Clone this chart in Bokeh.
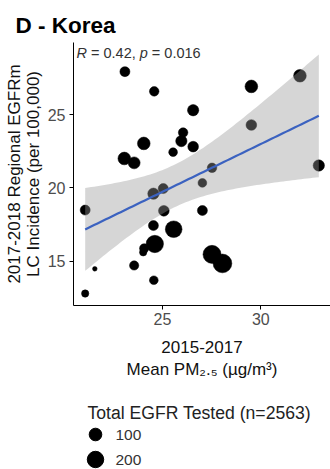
import numpy as np
from bokeh.plotting import figure
from bokeh.models import Range1d, FixedTicker, Label, ColumnDataSource
from bokeh.layouts import column
from bokeh.embed import file_html
from bokeh.resources import INLINE
from bokeh.core.properties import value

# ---- data ----
pm25 = [23.09, 24.58, 29.52, 31.99, 26.56, 29.52, 26.05, 25.96, 26.56, 24.05,
        25.54, 23.06, 23.56, 27.52, 32.95, 27.03, 25.04, 24.54, 21.07, 25.07,
        27.03, 24.54, 25.57, 24.61, 24.07, 24.02, 27.52, 28.05, 23.56, 21.56,
        24.56, 21.07]
incidence = [27.96, 26.61, 26.95, 27.68, 25.32, 24.31, 23.79, 23.21, 22.83, 23.05,
             22.45, 22.02, 21.72, 21.38, 21.54, 20.35, 19.96, 19.61, 18.49, 18.44,
             18.46, 17.43, 17.18, 16.17, 15.87, 15.60, 15.46, 14.84, 14.70, 14.47,
             13.69, 12.78]
n_tested = [52, 45, 102, 102, 74, 63, 45, 74, 63, 102,
            34, 102, 87, 45, 74, 34, 52, 74, 52, 63,
            52, 52, 208, 228, 41, 19, 251, 276, 41, 2,
            34, 19]
x_ticks = [25, 30]
y_ticks = [15, 20, 25]
legend_values = [100, 200]
legend_labels = ["100", "200"]
title_text = "D - Korea"
NB = "\u00a0"
stat_parts = ["R", NB + "=" + NB + "0.42," + NB, "p", NB + "=" + NB + "0.016"]
x_label = "2015-2017\nMean PM\u2082.\u2085 (\u00b5g/m\u00b3)"
y_label = "2017-2018 Regional EGFRm\nLC Incidence (per 100,000)"
legend_title = "Total EGFR Tested (n=2563)"

FONT = "Liberation Sans"
FRAME_LEFT = 73


def dot_size(n):
    return 3.3 + 0.93 * np.sqrt(np.asarray(n, dtype=float))


# ---- linear fit with 95% CI (as geom_smooth(method="lm")) ----
x = np.array(pm25)
y = np.array(incidence)
nobs = len(x)
b, a = np.polyfit(x, y, 1)
xs = np.linspace(x.min(), x.max(), 80)
yhat = a + b * xs
resid = y - (a + b * x)
s = np.sqrt(np.sum(resid ** 2) / (nobs - 2))
sxx = np.sum((x - x.mean()) ** 2)
se = s * np.sqrt(1.0 / nobs + (xs - x.mean()) ** 2 / sxx)
tq = 2.042
lo = yhat - tq * se
hi = yhat + tq * se

xmin, xmax = x.min(), x.max()
xpad = 0.05 * (xmax - xmin)
ymin = min(y.min(), lo.min())
ymax = max(y.max(), hi.max())
ypad = 0.05 * (ymax - ymin)

p = figure(width=330, height=390, output_backend="svg", toolbar_location=None,
           x_range=Range1d(xmin - xpad, xmax + xpad),
           y_range=Range1d(ymin - ypad, ymax + ypad),
           min_border_left=FRAME_LEFT, min_border_right=0, min_border_top=42,
           min_border_bottom=85)
p.outline_line_color = None
p.xgrid.visible = False
p.ygrid.visible = False
p.background_fill_color = "white"

src = ColumnDataSource(dict(x=pm25, y=incidence, size=dot_size(n_tested)))
p.scatter("x", "y", size="size", source=src, fill_color="black",
          line_color="black", line_width=0.5)

p.varea(x=xs, y1=lo, y2=hi, fill_color="#999999", fill_alpha=0.4)
p.line(xs, yhat, line_color="#3b62c0", line_width=2.2)

# title
p.title.text = title_text
p.title.text_font = FONT
p.title.text_font_size = "22.5px"
p.title.text_font_style = "bold"
p.title.align = "left"
p.title.offset = -58
p.title.text_color = "black"

# axes
for ax in (p.xaxis[0], p.yaxis[0]):
    ax.axis_line_color = "black"
    ax.axis_line_width = 1
    ax.major_tick_line_color = "black"
    ax.major_tick_out = 4
    ax.major_tick_in = 0
    ax.minor_tick_line_color = None
    ax.major_label_text_font = FONT
    ax.major_label_text_font_size = "16px"
    ax.major_label_text_color = "#4d4d4d"
    ax.axis_label_text_font = FONT
    ax.axis_label_text_font_size = "17px"
    ax.axis_label_text_font_style = "normal"
    ax.axis_label_text_color = "#111111"

p.xaxis.axis_label_text_line_height = 1.2
p.yaxis.axis_label_text_line_height = 1.0
p.xaxis.ticker = FixedTicker(ticks=x_ticks)
p.yaxis.ticker = FixedTicker(ticks=y_ticks)
p.xaxis.axis_label = x_label
p.yaxis.axis_label = y_label
p.xaxis.major_label_standoff = 3
p.yaxis.major_label_standoff = 4
p.xaxis.axis_label_standoff = 10
p.yaxis.axis_label_standoff = 2

# R / p annotation (R and p italic)
fs = 14.5
widths = [0.722, 3.642, 0.556, 3.64]
off = 3.0
for part, w in zip(stat_parts, widths):
    italic = part in ("R", "p")
    p.add_layout(Label(x=xmin - xpad, y=ymax + ypad, x_offset=off, y_offset=-10,
                       text=part, text_font=FONT, text_font_size=f"{fs}px",
                       text_font_style="italic" if italic else "normal",
                       text_color="#333333", text_baseline="middle",
                       text_align="left"))
    off += w * fs

# ---- legend as its own small figure (x in page px) ----
LH = 79
leg = figure(width=330, height=LH, output_backend="svg", toolbar_location=None,
             x_range=Range1d(FRAME_LEFT, 330), y_range=Range1d(LH, 0),
             x_axis_type=None, y_axis_type=None,
             min_border=0, min_border_left=FRAME_LEFT, min_border_right=0,
             min_border_top=0, min_border_bottom=0)
leg.outline_line_color = None
leg.xgrid.visible = False
leg.ygrid.visible = False

leg_x0 = 87
title_y = 22
item_y0 = 44
item_step = 25
item_ys = [item_y0 + i * item_step for i in range(len(legend_values))]

leg.text(x=[leg_x0], y=[title_y], text=[legend_title], text_font=value(FONT),
         text_font_size="17.6px", text_color="#222222", text_baseline="middle",
         text_align="left")
leg.scatter(x=[leg_x0 + 8] * len(legend_values), y=item_ys,
            size=dot_size(legend_values), fill_color="black", line_color="black")
leg.text(x=[leg_x0 + 28] * len(legend_values), y=item_ys, text=legend_labels,
         text_font=value(FONT), text_font_size="15.5px", text_color="#333333",
         text_baseline="middle", text_align="left")

layout = column(p, leg, spacing=0)
open("out.html", "w").write(file_html(layout, INLINE))
